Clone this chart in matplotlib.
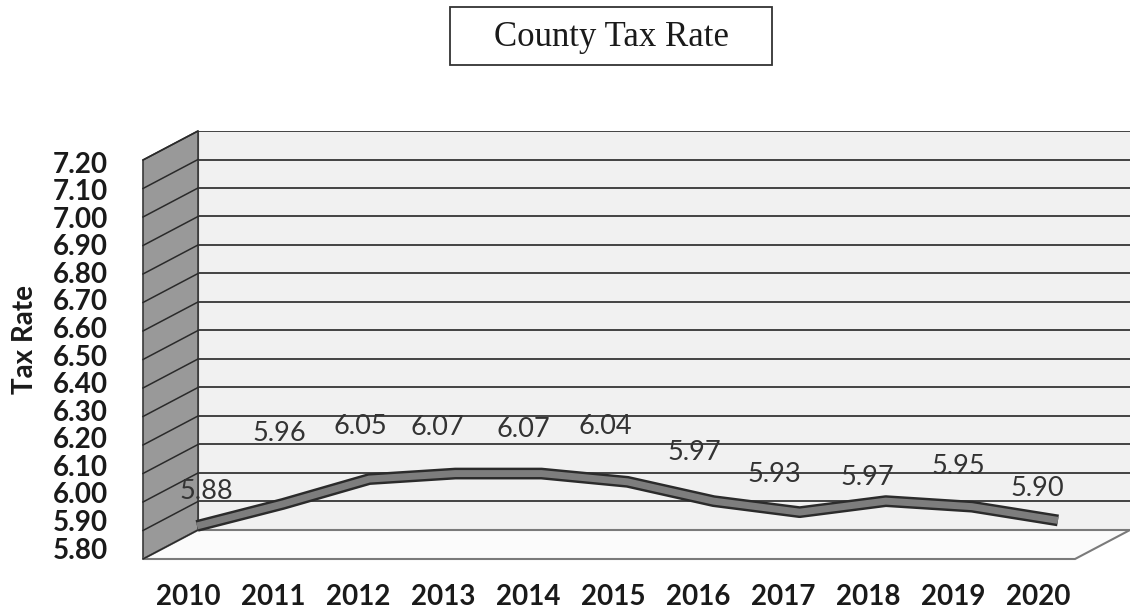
import numpy as np
import matplotlib.pyplot as plt
from matplotlib.patches import Polygon, Rectangle
from matplotlib.lines import Line2D
from matplotlib.transforms import IdentityTransform
from matplotlib import patheffects as pe

# --------------------------------------------------------------------------------------------------
# Data
# --------------------------------------------------------------------------------------------------

years = ['2010', '2011', '2012', '2013', '2014', '2015', '2016', '2017', '2018', '2019', '2020']
rates = [5.88, 5.96, 6.05, 6.07, 6.07, 6.04, 5.97, 5.93, 5.97, 5.95, 5.90]
y_ticks = np.round(np.arange(5.80, 7.201, 0.10), 2)

# Label offsets from each point (pixels, right / up), the way Excel scattered them
label_dx = [9, -4, -9, -18, -18, -22, -19, -25, -18, -14, -21]
label_dy = [34, 70, 53, 46, 44, 55, 49, 38, 24, 40, 32]

# --------------------------------------------------------------------------------------------------
# Layout helpers (pixel boxes, origin top-left)
# --------------------------------------------------------------------------------------------------

W, H = 1130, 611
depth = np.array([-55, -29])        # back wall -> front edge, display pixels

fig = plt.figure(figsize=(W / 100, H / 100), dpi=100)
fig.patch.set_facecolor('white')

def box(x0, y0, x1, y1):
    return [x0 / W, 1 - y1 / H, (x1 - x0) / W, (y1 - y0) / H]

# Back wall with gridlines
back = fig.add_axes(box(198, 131, 1130, 530))
back.set_xlim(0, 1)
back.set_ylim(y_ticks[0], y_ticks[-1])
back.set_facecolor('#f1f1f1')
for v in y_ticks:
    back.axhline(v, color='#262626', lw=1.2)
back.set_xticks([])
back.set_yticks([])
for s in back.spines.values():
    s.set_visible(False)
back.spines['left'].set_visible(True)
back.spines['left'].set_color('#555555')

fig.canvas.draw()
tb = back.transData

# Side wall and floor, projected from the back wall corners
bl = tb.transform((0, y_ticks[0]))
tl = tb.transform((0, y_ticks[-1]))
br = tb.transform((1, y_ticks[0]))
side = Polygon([tl + depth, tl, bl, bl + depth], closed=True, transform=IdentityTransform(),
               facecolor='#999999', edgecolor='#3a3a3a', lw=1.2, zorder=1)
fig.add_artist(side)
floor = Polygon([bl + depth, bl, br, br + depth], closed=True, transform=IdentityTransform(),
                facecolor='#fbfbfb', edgecolor='#7a7a7a', lw=1.5, zorder=1)
fig.add_artist(floor)
for v in y_ticks:
    p = tb.transform((0, v))
    q = p + depth
    fig.add_artist(Line2D([q[0], p[0]], [q[1], p[1]], transform=IdentityTransform(),
                          color='#2a2a2a', lw=1.1, zorder=2))

# Axis labels along the front edge
lax = fig.add_axes(box(143, 162, 1078, 548), zorder=5)
lax.set_facecolor('none')
lax.set_xlim(-0.529, 10.471)
lax.set_ylim(y_ticks[0], y_ticks[-1])
lax.set_xticks(range(len(years)))
lax.set_xticklabels(years, fontfamily='Lato', fontweight='bold', fontsize=20, color='#1a1a1a')
lax.set_yticks(y_ticks)
lax.set_yticklabels([f'{v:.2f}' for v in y_ticks], fontfamily='Lato', fontweight='bold',
                    fontsize=20, color='#1a1a1a')
lax.tick_params(axis='y', length=0, pad=25)
lax.tick_params(axis='x', length=0, pad=26)
for s in lax.spines.values():
    s.set_visible(False)
lax.set_ylabel('Tax Rate', fontfamily='Lato', fontweight='bold', fontsize=20, color='#1a1a1a')
lax.yaxis.set_label_coords(-0.112, 0.539)

# The 3-D ribbon line
nax = fig.add_axes(box(197, 162, 1058, 548), zorder=6)
nax.set_xlim(0, len(years) - 1)
nax.set_ylim(y_ticks[0], y_ticks[-1])
nax.axis('off')
nax.plot(range(len(years)), rates, color='#7d7d7d', lw=5, clip_on=False, solid_capstyle='butt',
         solid_joinstyle='round',
         path_effects=[pe.Stroke(linewidth=8.5, foreground='#2b2b2b'), pe.Normal()])

for i, v in enumerate(rates):
    nax.annotate(f'{v:.2f}', (i, v), xytext=(label_dx[i] * 0.72, label_dy[i] * 0.72),
                 textcoords='offset points', ha='center', va='center',
                 fontfamily='Lato', fontsize=19.5, color='#333333')

# Boxed title
fig.text(611 / W, 1 - 37 / H, 'County Tax Rate', fontfamily='Liberation Serif', fontsize=25,
         ha='center', va='center', color='#1a1a1a')
fig.add_artist(Rectangle((450 / W, 1 - 65 / H), 322 / W, 58 / H, transform=fig.transFigure,
                         fill=False, edgecolor='#333333', lw=1.3))

fig.savefig('out.png', dpi=100)
